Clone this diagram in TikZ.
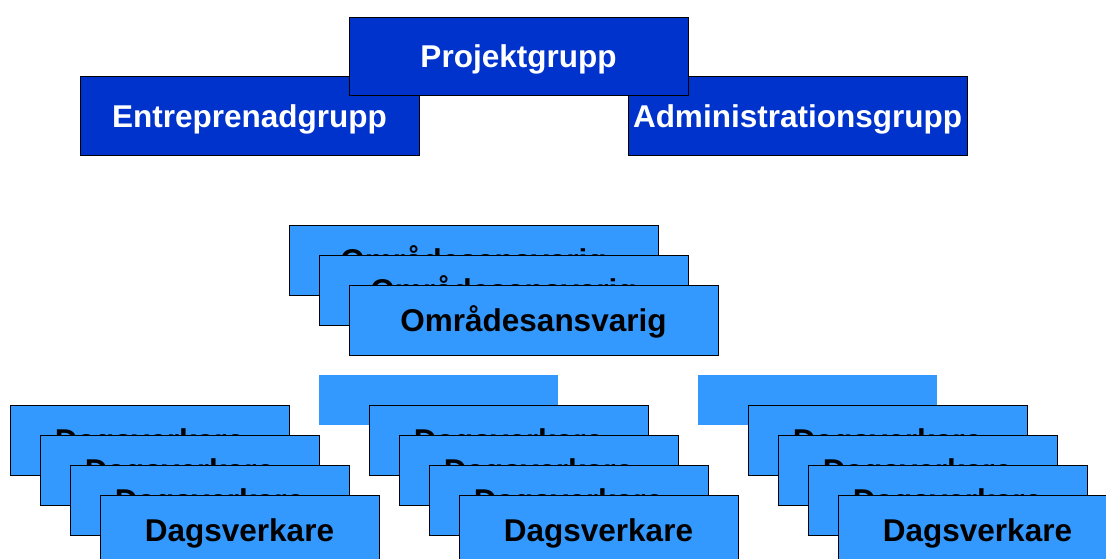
\documentclass[tikz,border=0pt]{standalone}
\usepackage{fontspec}
\setmainfont{Liberation Sans}
\definecolor{darkbl}{HTML}{0033CC}
\definecolor{lightbl}{HTML}{3399FF}
\tikzset{
  x=1pt,y=-1pt,
  boxtext/.style={font=\fontsize{31.5}{36}\selectfont\bfseries,text height=23.5pt,text depth=0pt},
  topbox/.style={draw=black,line width=1pt,fill=darkbl,text=white,inner sep=0pt,
    minimum width=339pt,minimum height=79pt,boxtext},
  obox/.style={draw=black,line width=1pt,fill=lightbl,text=black,inner sep=0pt,
    minimum width=369pt,minimum height=70pt,boxtext},
  dbox/.style={draw=black,line width=1pt,fill=lightbl,text=black,inner sep=0pt,
    minimum width=279pt,minimum height=70pt,boxtext},
  plainbox/.style={fill=lightbl,inner sep=0pt,minimum width=239pt,minimum height=50pt}
}
\begin{document}
\begin{tikzpicture}
\clip (0,0) rectangle (1106,558);
\fill[white] (0,0) rectangle (1106,558);
% top group
\node[topbox] (e) at (249.5,116) {Entreprenadgrupp};
\node[topbox] (a) at (797.5,116) {Administrationsgrupp};
\node[topbox,minimum height=78pt] (p) at (518.5,56) {Projektgrupp};
% Områdesansvarig stack
\node[obox] (o1) at (473.5,260) {Områdesansvarig};
\node[obox] (o2) at (503.5,290) {Områdesansvarig};
\node[obox] (o3) at (533.5,320) {Områdesansvarig};
% plain rectangles
\node[plainbox] (l1) at (438.5,400) {};
\node[plainbox] (l2) at (817.5,400) {};
% left stack
\node[dbox] (dl1) at (149.5,440) {Dagsverkare};
\node[dbox] (dl2) at (179.5,470) {Dagsverkare};
\node[dbox] (dl3) at (209.5,500) {Dagsverkare};
\node[dbox] (dl4) at (239.5,530) {Dagsverkare};
% middle stack
\node[dbox] (dm1) at (508.5,440) {Dagsverkare};
\node[dbox] (dm2) at (538.5,470) {Dagsverkare};
\node[dbox] (dm3) at (568.5,500) {Dagsverkare};
\node[dbox] (dm4) at (598.5,530) {Dagsverkare};
% right stack
\node[dbox] (dr1) at (887.5,440) {Dagsverkare};
\node[dbox] (dr2) at (917.5,470) {Dagsverkare};
\node[dbox] (dr3) at (947.5,500) {Dagsverkare};
\node[dbox] (dr4) at (977.5,530) {Dagsverkare};
\end{tikzpicture}
\end{document}
